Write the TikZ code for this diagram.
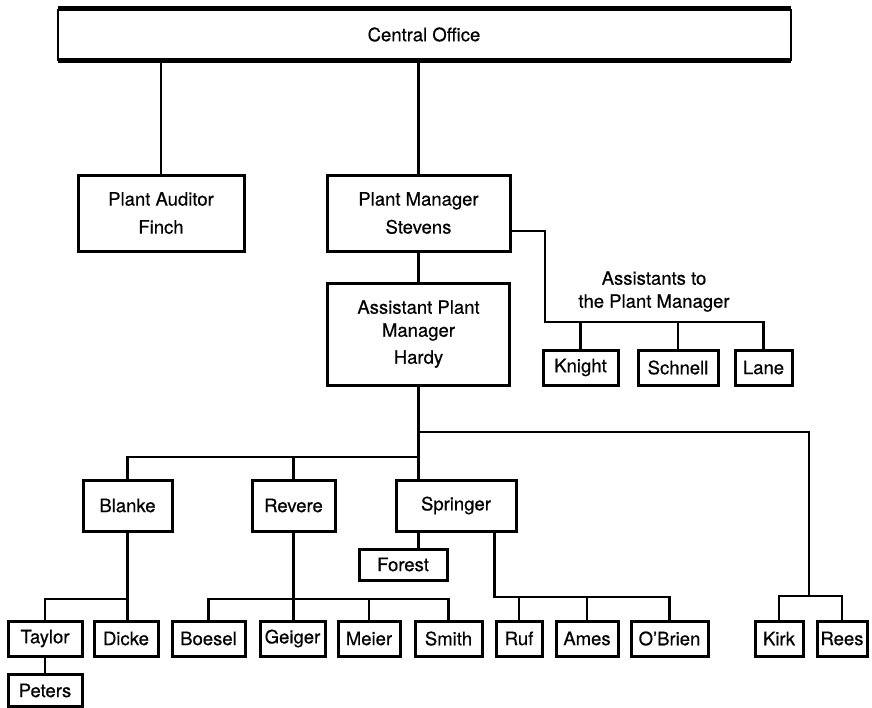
\documentclass[tikz,border=0pt]{standalone}
\usepackage{fontspec}
\setmainfont{TeX Gyre Heros}[FakeBold=0.5]
\begin{document}
\begin{tikzpicture}[x=1pt,y=-1pt,
  box/.style={draw, line width=3pt, inner sep=0pt, align=center,
    font=\fontsize{18.5}{23}\selectfont, minimum height=35pt},
  twoline/.style={font=\fontsize{18.5}{28}\selectfont},
  link/.style={line width=2.7pt, line join=miter},
  thinlink/.style={line width=2pt}]
\useasboundingbox (0,0) rectangle (872,707);

% head office bar
\node[box, draw=none, minimum width=730pt, minimum height=49pt] (co) at (424,34.5) {Central Office};
\draw[line width=2pt] (co.north west) -- (co.south west) (co.north east) -- (co.south east);
\draw[line width=4.5pt] (co.north west) -- (co.north east) (co.south west) -- (co.south east);

% plant level
\node[box, twoline, minimum width=166pt, minimum height=76pt] (pa) at (161,213) {Plant Auditor\\Finch};
\node[box, twoline, minimum width=183pt, minimum height=76pt] (pm) at (418.5,213) {Plant Manager\\Stevens};
\node[box, minimum width=182pt, minimum height=102pt] (apm) at (418.5,334) {Assistant Plant\\Manager\\[4pt]Hardy};

\draw[link] (pa.north) -- (pa.north |- co.south);
\draw[link] (pm.north) -- (pm.north |- co.south);
\draw[link] (pm.south) -- (apm.north);

% assistants to the plant manager
\node[align=center, font=\fontsize{18.5}{23}\selectfont] (asl) at (654,291.5) {Assistants to\\the Plant Manager};
\node[box, minimum width=75pt] (kn) at (580.5,367.5) {Knight};
\node[box, minimum width=80pt] (sc) at (678,367.5) {Schnell};
\node[box, minimum width=57pt] (la) at (763.5,367.5) {Lane};
\coordinate (pmo) at ([yshift=-18pt]pm.east);
\coordinate (abus) at (545,322);
\draw[link] (pmo) -| (abus) -| (la.north);
\draw[link] (kn.north) -- (kn.north |- abus);
\draw[link] (sc.north) -- (sc.north |- abus);

% department heads
\node[box, minimum width=89pt, minimum height=51pt] (bl) at (127.5,505.5) {Blanke};
\node[box, minimum width=83pt, minimum height=51pt] (rv) at (293.5,505.5) {Revere};
\node[box, minimum width=120pt, minimum height=51pt] (sp) at (456,505.5) {Springer};
\node[box, minimum width=88pt, minimum height=31pt] (fo) at (403,564.5) {Forest};

\coordinate (mbus) at (apm.south |- 0,457);
\coordinate (kbranch) at (apm.south |- 0,432);
\coordinate (kbus) at (809,596);
\draw[link] (apm.south) -- (apm.south |- sp.north);
\draw[link] (bl.north) |- (mbus);
\draw[link] (rv.north) -- (rv.north |- mbus);
\draw[thinlink] (kbranch) -| (kbus);
\draw[link] (sp.south -| apm.south) -- (fo.north -| apm.south);

% staff
\node[box, minimum width=74pt] (ta) at (45,638.5) {Taylor};
\node[box, minimum width=74pt, minimum height=32pt] (pe) at (45,690.5) {Peters};
\node[box, minimum width=64pt] (di) at (126,638.5) {Dicke};
\node[box, minimum width=73pt] (bo) at (208.5,638.5) {Boesel};
\node[box, minimum width=65pt] (ge) at (292.5,638.5) {Geiger};
\node[box, minimum width=62pt] (me) at (369,638.5) {Meier};
\node[box, minimum width=67pt] (sm) at (448.5,638.5) {Smith};
\node[box, minimum width=46pt] (ru) at (519,638.5) {Ruf};
\node[box, minimum width=62pt] (am) at (587,638.5) {Ames};
\node[box, minimum width=77pt] (ob) at (669.5,638.5) {O'Brien};
\node[box, minimum width=48pt] (ki) at (779,638.5) {Kirk};
\node[box, minimum width=50pt] (re) at (842,638.5) {Rees};

% Blanke group
\draw[link] (bl.south) -- (bl.south |- di.north);
\draw[link] (ta.north) |- (bl.south |- 0,599);
\draw[link] (ta.south) -- (pe.north);

% Revere group
\draw[link] (rv.south) -- (rv.south |- ge.north);
\draw[link] (bo.north) |- (sm.north |- 0,599) -- (sm.north);
\draw[link] (me.north) -- (me.north |- 0,599);

% Springer group
\draw[link] (sp.south -| ru.west) -- (ru.west |- 0,597) -| (ob.north);
\draw[link] (ru.north) -- (ru.north |- 0,597);
\draw[link] (am.north) -- (am.north |- 0,597);

% Kirk and Rees
\draw[link] (ki.north) |- (re.north |- kbus) -- (re.north);
\end{tikzpicture}
\end{document}
